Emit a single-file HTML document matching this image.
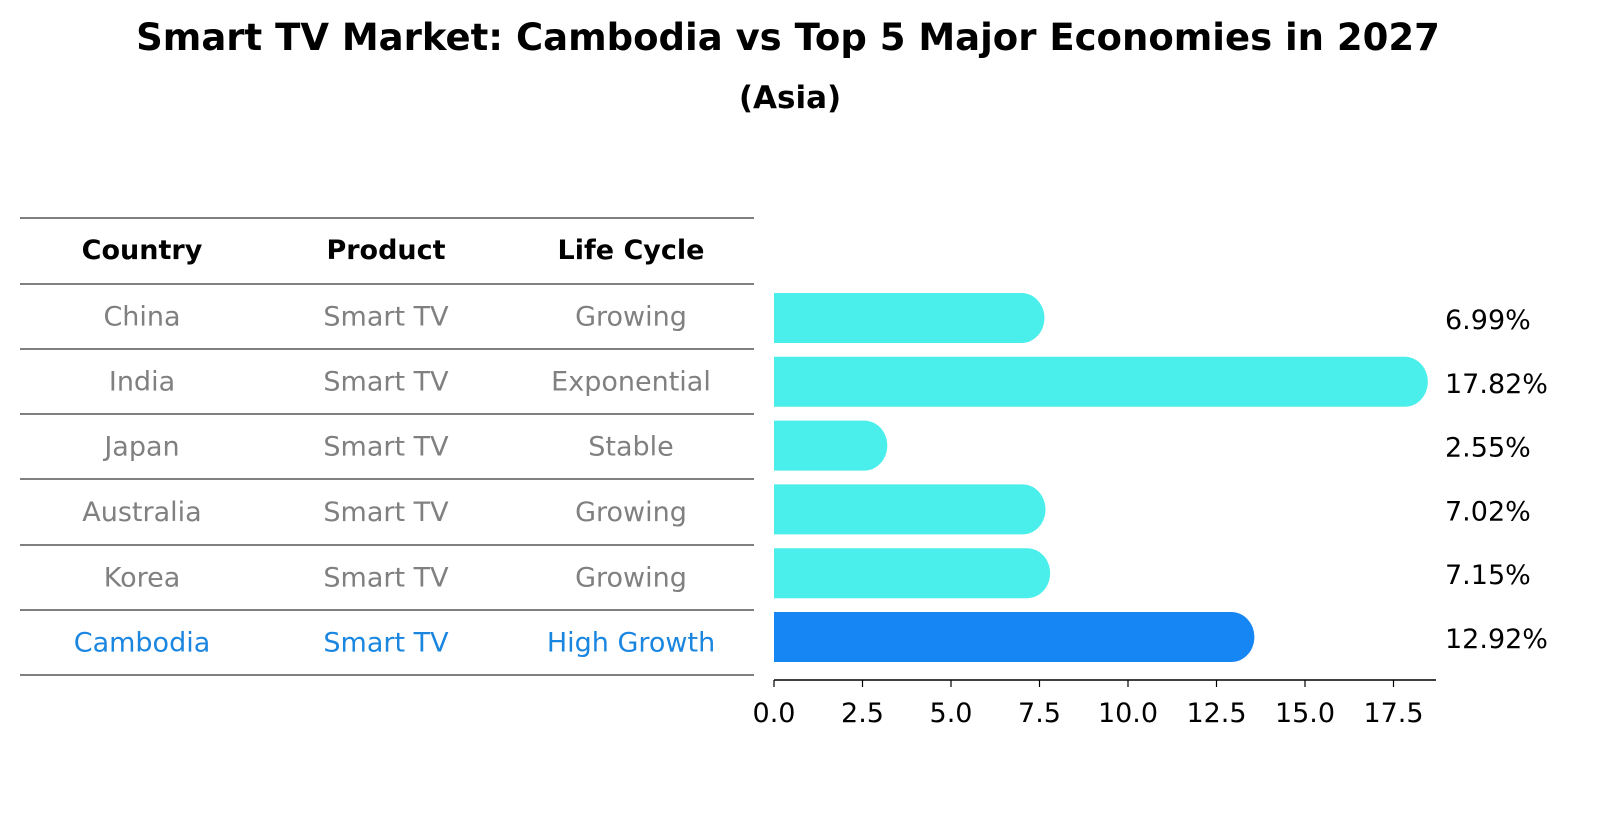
<!DOCTYPE html>
<html><head><meta charset="utf-8"><style>
body{margin:0;background:#fff;font-family:"Liberation Sans","DejaVu Sans",sans-serif}
</style></head><body>
<svg width="1604" height="823" xmlns="http://www.w3.org/2000/svg" font-family="DejaVu Sans, Liberation Sans, sans-serif">
<text x="788" y="50" text-anchor="middle" font-size="37" font-weight="bold">Smart TV Market: Cambodia vs Top 5 Major Economies in 2027</text>
<text x="790" y="108" text-anchor="middle" font-size="31" font-weight="bold">(Asia)</text>
<g id="table"></g>
<g id="bars"></g>
</svg>
<script>
const countries=["China","India","Japan","Australia","Korea","Cambodia"];
const products=["Smart TV","Smart TV","Smart TV","Smart TV","Smart TV","Smart TV"];
const lifecycle=["Growing","Exponential","Stable","Growing","Growing","High Growth"];
const values=[6.99,17.82,2.55,7.02,7.15,12.92];
const ticks=[0,2.5,5,7.5,10,12.5,15,17.5];
const NS="http://www.w3.org/2000/svg";
function mk(t,a,p){const e=document.createElementNS(NS,t);for(const k in a)e.setAttribute(k,a[k]);p.appendChild(e);return e;}
const tb=document.getElementById('table');
const lineY=[218,284,349,414,479,545,610,675];
lineY.forEach(y=>{const l=mk('line',{x1:20,x2:754,y1:y,y2:y,stroke:'#000','stroke-width':1},tb);

});
const colX=[142,386,631];
["Country","Product","Life Cycle"].forEach((h,i)=>{const t=mk('text',{x:colX[i],y:259,'text-anchor':'middle','font-size':27,'font-weight':'bold'},tb);t.textContent=h;

});
countries.forEach((c,r)=>{const y=(lineY[r+1]+lineY[r+2])/2+9;const col=r===countries.length-1?'#1a86e0':'#808080';
[c,products[r],lifecycle[r]].forEach((v,i)=>{const t=mk('text',{x:colX[i],y:y,'text-anchor':'middle','font-size':27,fill:col},tb);t.textContent=v;

});});
const bg=document.getElementById('bars');
const x0=774,ppu=35.4;const xs=v=>x0+v*ppu;
const cy=i=>318+i*63.8;const h=50;
values.forEach((v,i)=>{const xe=xs(v);const top=cy(i)-h/2;const col=i===values.length-1?'#1786f5':'#4aeeea';
const p=mk('path',{d:`M${x0},${top}H${xe}A23,25 0 0 1 ${xe},${top+h}H${x0}Z`,fill:col},bg);


const t=mk('text',{x:1445,y:cy(i)+11,'font-size':27},bg);t.textContent=v.toFixed(2)+'%';

});
const ax=mk('line',{x1:x0,x2:1436,y1:680,y2:680,stroke:'#000','stroke-width':1.5},bg);


ticks.forEach(tv=>{const x=xs(tv);const l=mk('line',{x1:x,x2:x,y1:680,y2:687,stroke:'#000','stroke-width':1.2},bg);


const t=mk('text',{x:x,y:722,'text-anchor':'middle','font-size':27},bg);t.textContent=tv.toFixed(1);

});
</script>
</body></html>
